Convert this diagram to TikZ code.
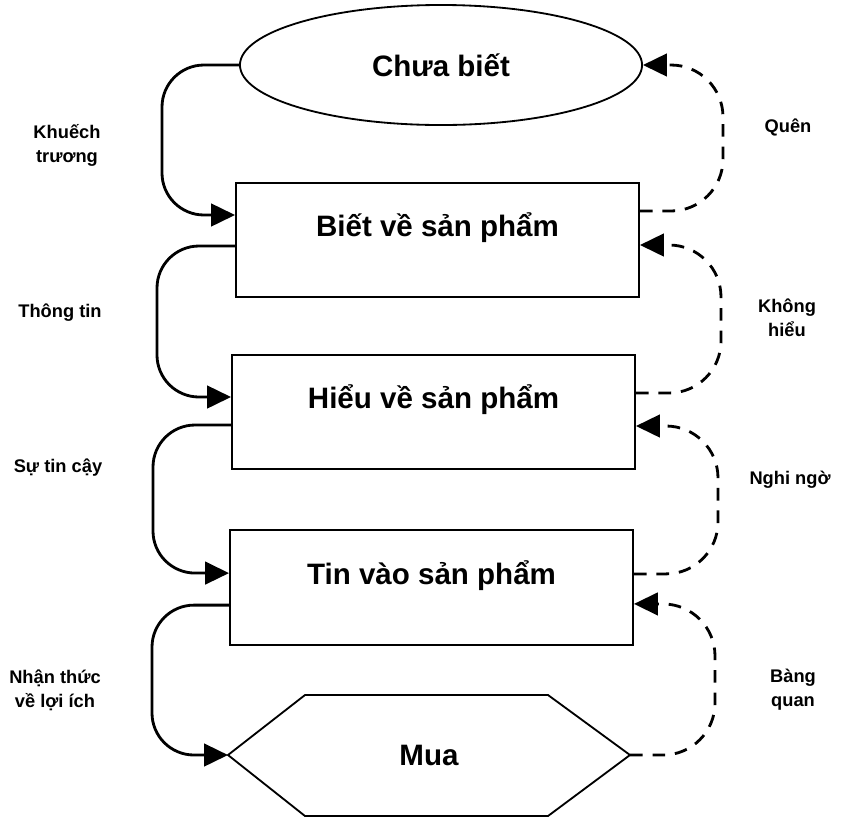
\documentclass[tikz,border=0pt]{standalone}
\usepackage{fontspec}
\setmainfont{Liberation Sans}
\usetikzlibrary{shapes.geometric,arrows.meta}
\tikzset{
	stage/.style={draw, line width=1.3pt, minimum width=10.075cm, minimum height=2.85cm,
		font=\fontsize{21}{24}\selectfont\bfseries, text height=0.5cm, text depth=0.67cm},
	push/.style={-{Triangle[length=17pt,width=16pt]}, line width=2pt, rounded corners=1.05cm},
	pull/.style={-{Triangle[length=17pt,width=16pt]}, line width=2pt,
		dash pattern=on 9pt off 7pt, rounded corners=1.3cm},
	lbl/.style={font=\fontsize{13}{17}\selectfont\bfseries, align=center}
}
\begin{document}
\begin{tikzpicture}[x=0.025cm,y=-0.025cm]
	\useasboundingbox (0,0) rectangle (859,818);
	%\draw[lightgray] (0,0) grid[step=50] (859,818);
	\node[draw, ellipse, line width=1.3pt, minimum width=10.05cm, minimum height=3cm, inner sep=0pt,
		font=\fontsize{21}{24}\selectfont\bfseries] (unaware) at (441,65) {Chưa biết};
	\node[stage] (aware) at (437.5,240) {Biết về sản phẩm};
	\node[stage] (grasp) at (433.5,412) {Hiểu về sản phẩm};
	\node[stage, minimum height=2.875cm] (trust) at (431.5,587.5) {Tin vào sản phẩm};
	\draw[line width=1.3pt] (228,755) coordinate (buyW) -- (305,695) -- (548,695)
		-- (630,755) coordinate (buyE) -- (548,816) -- (305,816) -- cycle;
	\node[font=\fontsize{21}{24}\selectfont\bfseries] (buy) at (429,755) {Mua};

	% left side
	\draw[push] (unaware.west) -| (162,215) -- ([yshift=0.625cm]aware.west);
	\draw[push] ([yshift=-0.15cm]aware.west) -| (157,397) -- ([yshift=0.375cm]grasp.west);
	\draw[push] ([yshift=-0.325cm]grasp.west) -| (153,573) -- ([yshift=0.36cm]trust.west);
	\draw[push] ([yshift=-0.44cm]trust.west) -| (152,755) -- (buyW);

	% right side
	\draw[pull] ([yshift=0.725cm]aware.east) -| (723,65) -- (unaware.east);
	\draw[pull] ([yshift=0.475cm]grasp.east) -| (721,245) -- ([yshift=-0.125cm]aware.east);
	\draw[pull] ([yshift=0.34cm]trust.east) -| (718,426) -- ([yshift=-0.35cm]grasp.east);
	\draw[pull] (buyE) -| (715,604) -- ([yshift=-0.41cm]trust.east);

	\node[lbl] (promo) at (67,145) {Khuếch\\trương};
	\node[lbl] (info) at (60,313) {Thông tin};
	\node[lbl] (cred) at (58,468) {Sự tin cậy};
	\node[lbl] (gain) at (55,690) {Nhận thức\\về lợi ích};
	\node[lbl] (forget) at (788,127) {Quên};
	\node[lbl] (confuse) at (787,318) {Không\\hiểu};
	\node[lbl] (doubt) at (790,480) {Nghi ngờ};
	\node[lbl] (indiff) at (793,690) {Bàng\\quan};
\end{tikzpicture}
\end{document}
